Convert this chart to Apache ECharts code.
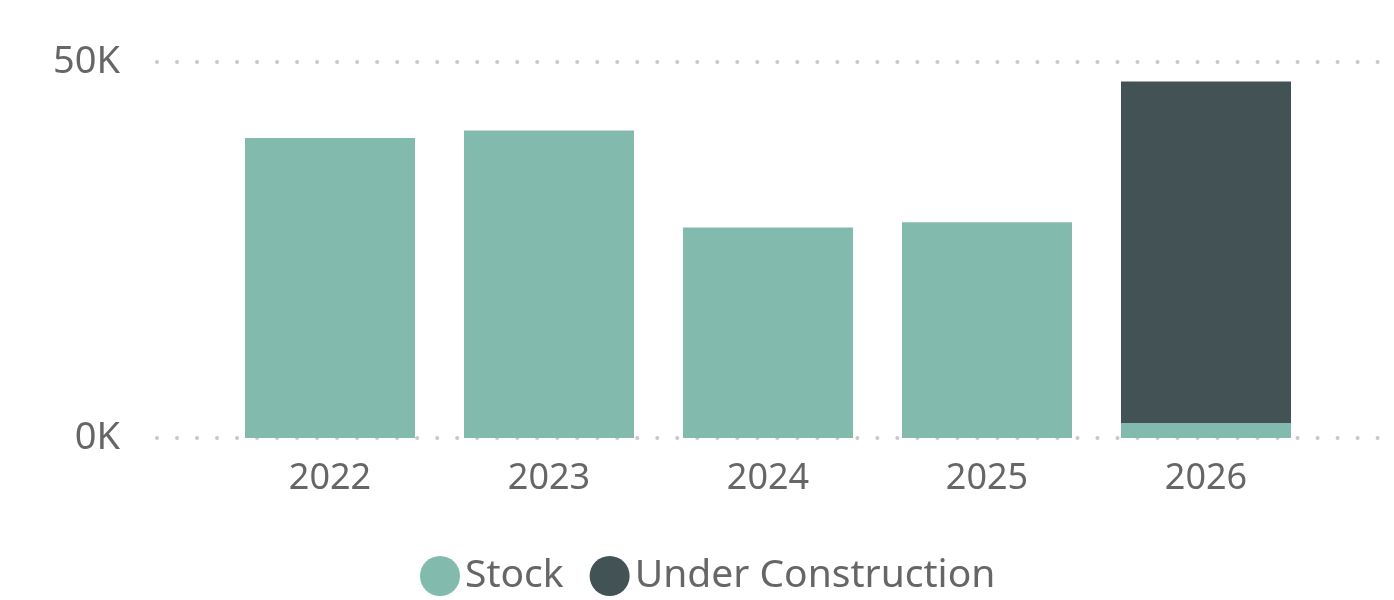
<!DOCTYPE html>
<html>
<head>
<meta charset="utf-8">
<script src="https://cdn.jsdelivr.net/npm/echarts@6/dist/echarts.min.js"></script>
<style>
html,body{margin:0;padding:0;background:#fff;}
#chart{width:1394px;height:600px;}
</style>
</head>
<body>
<div id="chart"></div>
<script>
const categories = ['2022', '2023', '2024', '2025', '2026'];
const stock = [39900, 40900, 28000, 28700, 2000];
const underConstruction = [null, null, null, null, 45400];
const yTicks = [0, 50000];

const FONT = 'Noto Sans';
const TEXT = '#666666';

const chart = echarts.init(document.getElementById('chart'), null, {renderer: 'canvas'});
chart.setOption({
  animation: false,
  backgroundColor: '#ffffff',
  textStyle: {fontFamily: FONT},
  legend: {
    left: 415, top: 551,
    icon: 'circle', itemWidth: 40, itemHeight: 40, itemGap: 26,
    textStyle: {fontFamily: FONT, fontSize: 39, color: TEXT},
    data: ['Stock', 'Under Construction']
  },
  grid: [
    {left: 157, right: 15, top: 62, bottom: 162},
    {left: 220.5, width: 1095, top: 62, bottom: 162}
  ],
  xAxis: [
    {gridIndex: 0, type: 'value', min: 0, max: 1, show: false},
    {gridIndex: 1, type: 'category', data: categories,
     axisLine: {show: false}, axisTick: {show: false},
     axisLabel: {fontFamily: FONT, fontSize: 36, color: TEXT, margin: 23}}
  ],
  yAxis: [
    {gridIndex: 0, type: 'value', min: yTicks[0], max: yTicks[yTicks.length - 1], interval: 50000,
     axisLine: {show: false}, axisTick: {show: false},
     axisLabel: {fontFamily: FONT, fontSize: 38, color: TEXT, margin: 37,
                 formatter: v => (v / 1000) + 'K'},
     splitLine: {show: true, lineStyle: {color: '#c8c8c8', width: 4, type: [0.01, 20], cap: 'round'}}},
    {gridIndex: 1, type: 'value', min: yTicks[0], max: yTicks[yTicks.length - 1], interval: 50000,
     show: false, splitLine: {show: false}}
  ],
  series: [
    {name: 'Stock', type: 'bar', stack: 'total', xAxisIndex: 1, yAxisIndex: 1,
     barWidth: 170, data: stock, itemStyle: {color: '#82BBAD'}},
    {name: 'Under Construction', type: 'bar', stack: 'total', xAxisIndex: 1, yAxisIndex: 1,
     barWidth: 170, data: underConstruction, itemStyle: {color: '#435255'}}
  ]
});
</script>
</body>
</html>
